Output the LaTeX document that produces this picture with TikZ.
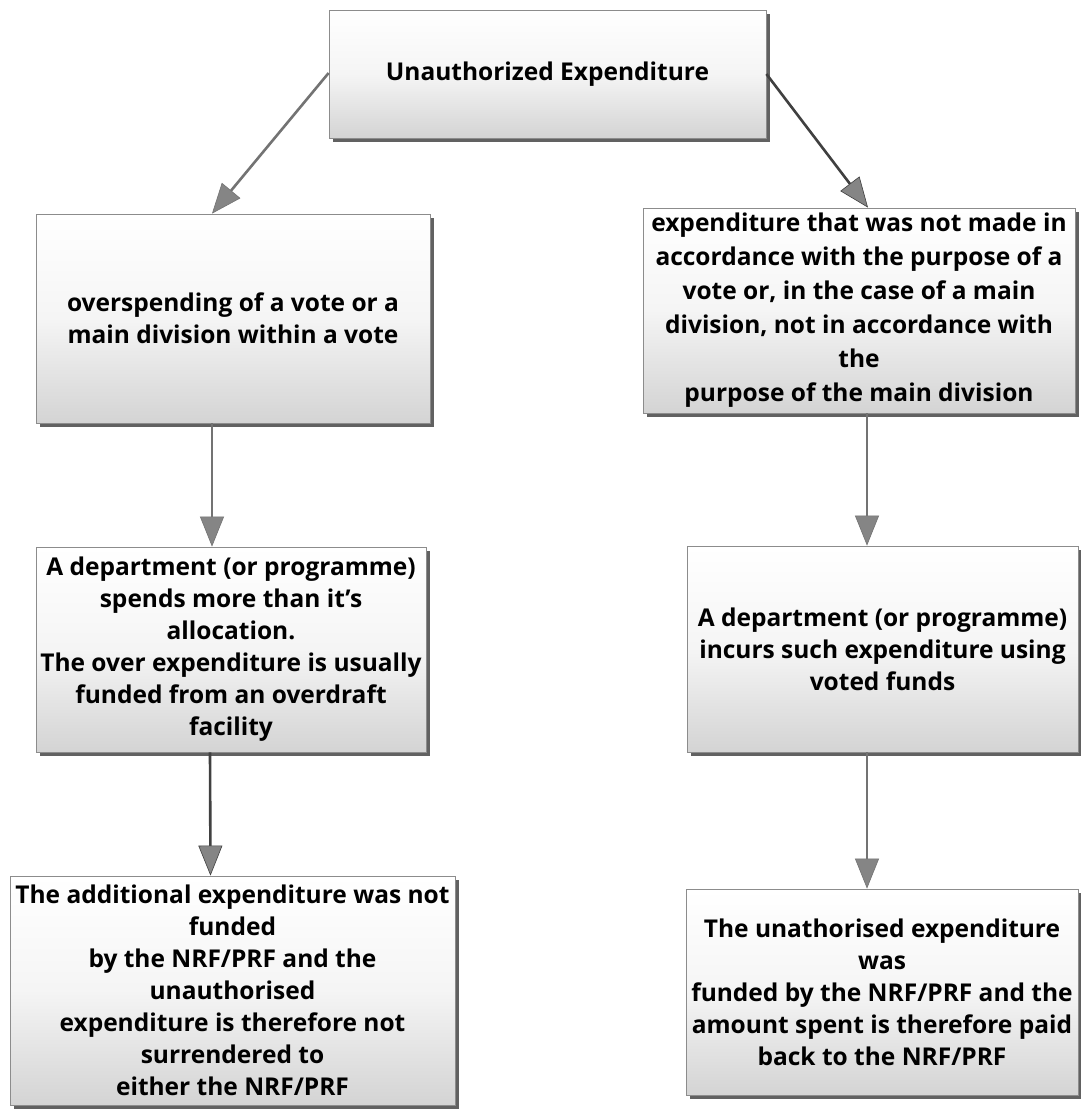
\documentclass[tikz,border=0pt]{standalone}
\usepackage{fontspec}
\setmainfont{Open Sans}
\usetikzlibrary{arrows.meta,shadows}
\tikzset{
  box/.style={draw=black!45, line width=0.8pt, align=center, inner sep=0pt,
    top color=white, bottom color=black!17, middle color=white!96!black,
    drop shadow={shadow xshift=4pt, shadow yshift=-4pt, fill=black!65, opacity=0.95},
    font=\fontsize{24.5}{32}\selectfont\bfseries, text=black},
  arr/.style={draw=black!55, line width=2.6pt,
    -{Triangle[width=24pt,length=30pt,fill=black!48,line width=0.6pt]}},
  darr/.style={arr, draw=black!75}
}
\begin{document}
\begin{tikzpicture}[x=1pt,y=-1pt]
\useasboundingbox[fill=white] (0,0) rectangle (1080,1114);
% boxes (centre, width, height in px)
\node[box, minimum width=437pt, minimum height=128pt] (top) at (547.5,74) {Unauthorized Expenditure};
\node[box, minimum width=394pt, minimum height=209pt] (l1) at (233,318.5)
  {overspending of a vote or a\\main division within a vote};
\node[box, minimum width=432pt, minimum height=205pt] (r1) at (859,310.5)
  {expenditure that was not made in\\[2pt]accordance with the purpose of a\\[2pt]vote or, in the case of a main\\[2pt]division, not in accordance with\\[2pt]the\\[2pt]purpose of the main division};
\node[box, minimum width=390pt, minimum height=205pt] (l2) at (231,649.5)
  {A department (or programme)\\spends more than it’s\\allocation.\\The over expenditure is usually\\funded from an overdraft\\facility};
\node[box, minimum width=391pt, minimum height=206pt] (r2) at (882.5,649)
  {A department (or programme)\\incurs such expenditure using\\voted funds};
\node[box, minimum width=445pt, minimum height=229pt] (l3) at (232.5,990.5)
  {The additional expenditure was not\\funded\\by the NRF/PRF and the\\unauthorised\\expenditure is therefore not\\surrendered to\\either the NRF/PRF};
\node[box, minimum width=392pt, minimum height=206pt] (r3) at (882,992)
  {The unathorised expenditure\\was\\funded by the NRF/PRF and the\\amount spent is therefore paid\\back to the NRF/PRF};
% connectors
\draw[arr] ([yshift=1pt]top.west) -- ([xshift=-21pt]l1.north);
\draw[darr] ([yshift=0pt]top.east) -- ([xshift=9pt]r1.north);
\draw[arr] ([xshift=-21pt]l1.south) -- ([xshift=-19pt]l2.north);
\draw[darr] ([xshift=-21pt]l2.south) -- ([xshift=-22pt]l3.north);
\draw[arr] ([xshift=8pt]r1.south) -- ([xshift=-15.5pt]r2.north);
\draw[arr] ([xshift=-15.5pt]r2.south) -- ([xshift=-15pt]r3.north);
\end{tikzpicture}
\end{document}
